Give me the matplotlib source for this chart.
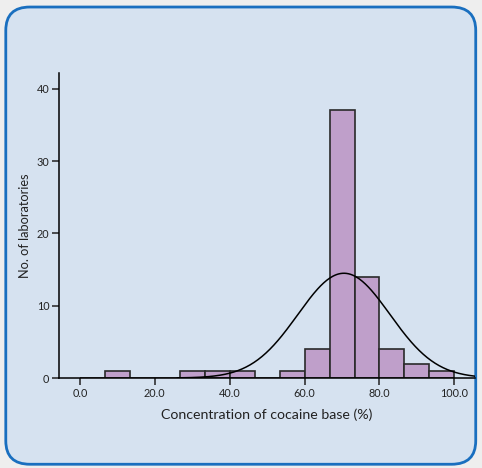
import numpy as np
import matplotlib.pyplot as plt
from matplotlib.patches import FancyBboxPatch

# histogram bins (concentration %), counts
bin_edges = np.linspace(0, 100, 16)
counts = [0, 1, 0, 0, 1, 1, 1, 0, 1, 4, 37, 14, 4, 2, 1]

# fitted normal curve parameters
curve_mean = 70.5
curve_sd = 12.3

x_ticks = [0, 20, 40, 60, 80, 100]
x_labels = ['0.0', '20.0', '40.0', '60.0', '80.0', '100.0']
y_ticks = [0, 10, 20, 30, 40]

plt.rcParams['font.family'] = ['Lato', 'DejaVu Sans']

fig = plt.figure(figsize=(4.82, 4.68), dpi=100)
fig.patch.set_facecolor('#eeeeee')

# rounded panel behind the chart
panel = FancyBboxPatch((0.012, 0.008), 0.975, 0.977, boxstyle='round,pad=0,rounding_size=0.05',
                       transform=fig.transFigure, facecolor='#d6e2f0', edgecolor='#1a6fbf',
                       linewidth=2.0, zorder=-5)
fig.patches.append(panel)

ax = fig.add_axes([0.1224, 0.1923, 0.863, 0.652])
ax.set_facecolor('none')
ax.set_zorder(5)

widths = np.diff(bin_edges)
ax.bar(bin_edges[:-1], counts, width=widths, align='edge', color='#bf9fca',
       edgecolor='#2a2a2a', linewidth=1.2, zorder=2)

n = sum(counts)
bw = widths[0]
xs = np.linspace(26, 105.5, 300)
ys = n * bw / (curve_sd * np.sqrt(2 * np.pi)) * np.exp(-0.5 * ((xs - curve_mean) / curve_sd) ** 2)
ax.plot(xs, ys, color='black', linewidth=1.1, zorder=3)

ax.set_xlim(-5.6, 105.5)
ax.set_ylim(0, 42.2)
ax.set_xticks(x_ticks)
ax.set_xticklabels(x_labels)
ax.set_yticks(y_ticks)

for side in ['top', 'right']:
    ax.spines[side].set_visible(False)
for side in ['left', 'bottom']:
    ax.spines[side].set_linewidth(1.1)
    ax.spines[side].set_zorder(4)

ax.tick_params(axis='both', labelsize=7.8, length=5, width=1.1, pad=2, colors='#222222')

ax.set_xlabel('Concentration of cocaine base (%)', fontsize=10.2, labelpad=7, color='#222222')
ax.set_ylabel('No. of laboratories', fontsize=9.2, labelpad=4, color='#222222')

fig.savefig('out.png', dpi=100, facecolor=fig.get_facecolor())
